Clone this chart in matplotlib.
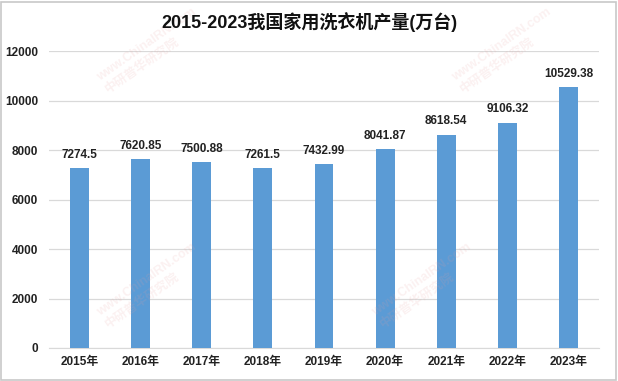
import matplotlib
matplotlib.use("Agg")
import matplotlib.pyplot as plt
from matplotlib.patches import Rectangle

plt.rcParams['font.family'] = ['Liberation Sans', 'Noto Sans CJK SC', 'DejaVu Sans']

years = ["2015年", "2016年", "2017年", "2018年", "2019年", "2020年", "2021年", "2022年", "2023年"]
values = [7274.5, 7620.85, 7500.88, 7261.5, 7432.99, 8041.87, 8618.54, 9106.32, 10529.38]
value_labels = ["7274.5", "7620.85", "7500.88", "7261.5", "7432.99", "8041.87", "8618.54", "9106.32", "10529.38"]
yticks = [0, 2000, 4000, 6000, 8000, 10000, 12000]
title = "2015-2023我国家用洗衣机产量(万台)"

W, H = 618, 381
fig = plt.figure(figsize=(W / 100, H / 100), dpi=100)
fig.patch.set_facecolor("white")
fig.patches.append(Rectangle((1 / W, 1 / H), 1 - 3 / W, 1 - 3 / H, transform=fig.transFigure,
                             fill=False, edgecolor="#C8C8C8", linewidth=1.2))

ax = fig.add_axes([49 / W, 33 / H, (599 - 49) / W, (348 - 51) / H])
x = list(range(len(years)))
ax.bar(x, values, width=0.31, color="#5B9BD5", zorder=3)
ax.set_xlim(-0.5, len(years) - 0.5)
ax.set_ylim(0, 12000)
ax.set_yticks(yticks)
ax.set_yticklabels([str(t) for t in yticks], fontsize=8.5, fontweight="bold", color="#222222")
ax.set_xticks(x)
ax.set_xticklabels(years, fontsize=8.5, fontweight="bold", color="#222222")
ax.grid(axis="y", color="#D9D9D9", linewidth=0.9, zorder=0)
for s in ["top", "right", "left"]:
    ax.spines[s].set_visible(False)
ax.spines["bottom"].set_color("#D9D9D9")
ax.tick_params(axis="both", length=0, pad=6)
ax.tick_params(axis="y", pad=8)

for xi, v, lab in zip(x, values, value_labels):
    ax.text(xi, v + 300, lab, ha="center", va="bottom", fontsize=8.5, fontweight="bold", color="#222222", zorder=4)

fig.text(0.5, 1 - 22 / H, title, ha="center", va="center", fontsize=13, fontweight="bold", color="#111111")

# faint watermarks
for (wx, wy) in [(95 / W, 95 / H), (370 / W, 95 / H), (95 / W, 330 / H), (450 / W, 330 / H)]:
    fig.text(wx, wy, "www.ChinaIRN.com\n中研普华研究院", fontsize=9, fontweight="bold", color="#E8A0A0",
             alpha=0.15, rotation=35, ha="left", va="center", zorder=0)

fig.savefig("out.png", dpi=100)
